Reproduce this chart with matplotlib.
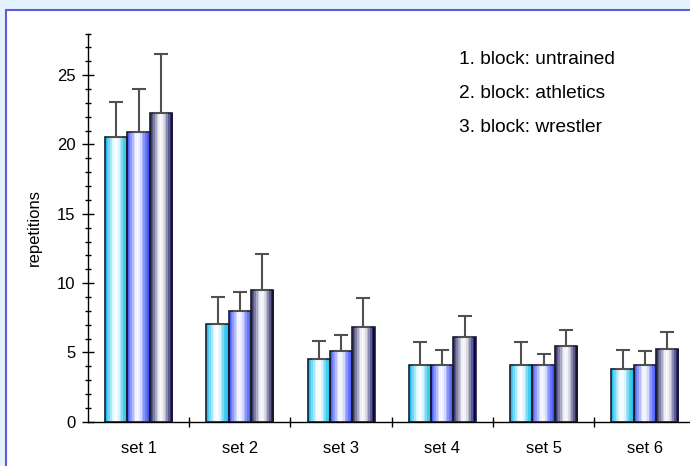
import numpy as np
import matplotlib
matplotlib.use("Agg")
import matplotlib.pyplot as plt
from matplotlib.patches import Rectangle
from matplotlib.colors import LinearSegmentedColormap
from matplotlib.ticker import MultipleLocator, FixedLocator

# data
sets = ["set 1", "set 2", "set 3", "set 4", "set 5", "set 6"]
series_names = ["1. block: untrained", "2. block: athletics", "3. block: wrestler"]
untrained = [20.55, 7.07, 4.55, 4.07, 4.07, 3.83]
athletics = [20.9, 8.0, 5.1, 4.07, 4.07, 4.07]
wrestler = [22.28, 9.48, 6.85, 6.13, 5.44, 5.22]
untrained_err = [2.5, 1.95, 1.25, 1.65, 1.65, 1.37]
athletics_err = [3.1, 1.38, 1.16, 1.13, 0.8, 1.0]
wrestler_err = [4.28, 2.65, 2.08, 1.52, 1.16, 1.25]

# horizontal band colours for the "tube" look of each series
gradients = [
    ["#22C0EE", "#6AD6F5", "#D0F3FC", "#FFFFFF", "#F2FBFE", "#9FE4F7", "#3ECBF1", "#22C2EE"],
    ["#5062F5", "#8894FA", "#D0D6FE", "#FFFFFF", "#E8EBFF", "#A0ABFC", "#6272F7", "#4052F0"],
    ["#3A3A6C", "#7A7AA2", "#C8C8DA", "#FFFFFF", "#EEEEF4", "#ACACC6", "#55558A", "#000060"],
]

plt.rcParams["font.family"] = ["Liberation Sans", "DejaVu Sans"]
plt.rcParams["font.size"] = 12

fig = plt.figure(figsize=(6.9, 4.66), dpi=100, facecolor="#E4F2FD")
W, H = 690.0, 466.0

# white panel with blue border on left/top
panel = Rectangle((6 / W, -0.01), 1.0, 1 - 10 / H + 0.01, transform=fig.transFigure,
                  facecolor="white", edgecolor="#5C5CDC", linewidth=1.5, zorder=-5)
fig.patches.append(panel)

ax = fig.add_axes([88 / W, 44.3 / H, 1 - 88 / W, (421.7 - 33.6) / H])
ax.set_facecolor("none")
ax.set_zorder(2)

x = np.arange(len(sets))
width = 0.22
values = [untrained, athletics, wrestler]
errors = [untrained_err, athletics_err, wrestler_err]

for i, (vals, errs, cols) in enumerate(zip(values, errors, gradients)):
    pos = x + (i - 1) * width
    cmap = LinearSegmentedColormap.from_list("g%d" % i, cols)
    grad = cmap(np.linspace(0, 1, 14))[np.newaxis, :, :]
    bars = ax.bar(pos, vals, width, facecolor="none", edgecolor="#1c1c2c",
                  linewidth=1.2, zorder=3)
    for b in bars:
        im = ax.imshow(grad, extent=[b.get_x(), b.get_x() + b.get_width(), 0, b.get_height()],
                       aspect="auto", interpolation="nearest", zorder=2)
        im.set_clip_path(b)
    ax.errorbar(pos, vals, yerr=[np.zeros(len(errs)), errs], fmt="none",
                ecolor="#505050", elinewidth=1.5, capsize=5, capthick=1.5, zorder=4)

ax.set_xlim(-0.5, 5.446)
ax.set_ylim(0, 28)

ax.spines["top"].set_visible(False)
ax.spines["right"].set_visible(False)
ax.spines["left"].set_linewidth(1.0)
ax.spines["bottom"].set_linewidth(1.0)

ax.yaxis.set_major_locator(MultipleLocator(5))
ax.yaxis.set_minor_locator(MultipleLocator(1))
ax.tick_params(axis="y", which="major", direction="inout", length=8, width=1.0, pad=5)
ax.tick_params(axis="y", which="minor", direction="inout", length=5, width=1.0)

ax.set_xticks(x)
ax.set_xticklabels(sets)
ax.xaxis.set_minor_locator(FixedLocator(x[:-1] + 0.5))
ax.tick_params(axis="x", which="major", length=0, pad=14)
ax.tick_params(axis="x", which="minor", direction="inout", length=7, width=1.0)

ax.set_ylabel("repetitions", labelpad=11)

for k, name in enumerate(series_names):
    fig.text(459 / W, 1 - (59 + 34.5 * k) / H, name, ha="left", va="center", fontsize=13.8)

fig.savefig("out.png", dpi=100, facecolor=fig.get_facecolor())
